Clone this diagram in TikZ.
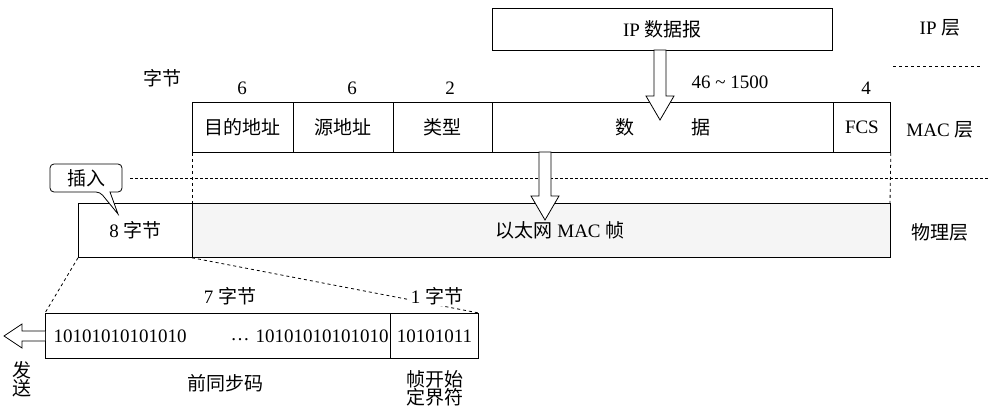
\documentclass[tikz,border=0pt]{standalone}
\usepackage{fontspec}
\setmainfont{Liberation Serif}
\newfontfamily\cjk{Noto Sans CJK SC}
\begin{document}
\begin{tikzpicture}[x=1pt,y=-1pt,
  cell/.style={draw,thick,minimum height=50pt,inner sep=0pt,anchor=north west,font=\fontsize{19}{22}\selectfont},
  lab/.style={inner sep=1pt,font=\fontsize{19}{22}\selectfont},
  hollow/.style={draw,thick,fill=white}]
\useasboundingbox (0,0) rectangle (990,412);
% IP
\node[cell,minimum width=340pt,minimum height=42pt] (ip) at (492,8) {IP {\cjk 数据报}};
\node[lab] (iplayer) at (940,28) {IP {\cjk 层}};
\draw[thick,dashed] (893,66) coordinate (d1) -- (980,66) coordinate (d2);
% MAC row
\node[cell,minimum width=101pt] (dst) at (192,102) {\cjk 目的地址};
\node[cell,minimum width=100pt] (src) at (293,102) {\cjk 源地址};
\node[cell,minimum width=99pt] (typ) at (393,102) {\cjk 类型};
\node[cell,minimum width=341pt] (dat) at (492,102) {\cjk 数\hspace{3em}据};
\node[cell,minimum width=57pt] (fcs) at (833,102) {FCS};
\node[lab] (maclayer) at (940,130) {MAC {\cjk 层}};
\node[lab] at (162,78) {\cjk 字节};
\node[lab] at (242,88) {6};
\node[lab] at (352,88) {6};
\node[lab] at (450,88) {2};
\node[lab] at (730,82) {46 \char`~\ 1500};
\node[lab] at (866,88) {4};
% arrow IP -> MAC
\draw[hollow] (654,50) -- (666,50) -- (666,96) -- (674,96) -- (660,120) -- (646,96) -- (654,96) -- cycle;
% dotted separator and verticals
\draw[thick,densely dashed] (130,178) -- (990,178);
\draw[thick,dashed] (dst.south west) -- (192,203);
\draw[thick,dashed] (fcs.south east) -- (890,203);
% physical
\node[cell,minimum width=114pt,minimum height=54pt] (pre) at (78,203) {8 {\cjk 字节}};
\node[cell,minimum width=698pt,minimum height=54pt,fill=gray!8] (frm) at (192,203) {};
\node[lab] at (560,230) {{\cjk 以太网} MAC {\cjk 帧}};
\node[lab] (phy) at (940,232) {\cjk 物理层};
% arrow MAC -> phys
\draw[hollow] (539,152) -- (551,152) -- (551,196) -- (559,196) -- (545,220) -- (531,196) -- (539,196) -- cycle;
% callout
\draw[thick,fill=white,rounded corners=4pt] (50,164) -- (50,192) -- (100,192) [sharp corners]-- (118,214) -- (110,192) [rounded corners=4pt] -- (122,192) -- (122,164) -- cycle;
\node[lab] (ins) at (86,178) {\cjk 插入};
% zoom lines
\node[cell,minimum width=345pt,minimum height=45pt] (b1) at (45,313) {};
\node[cell,minimum width=88pt,minimum height=45pt] (b2) at (390,313) {10101011};
\draw[thick,dashed] (pre.south west) -- (b1.north west);
\draw[thick,dashed] (frm.south west) -- (b2.north east);
\node[lab] at (120,336) {10101010101010};
\node[lab] at (240,340) {\dots};
\node[lab] at (322,336) {10101010101010};
\node[lab] at (230,296) {7 {\cjk 字节}};
\node[lab,fill=white] at (437,296) {1 {\cjk 字节}};
\node[lab] at (225,383) {\cjk 前同步码};
\node[lab,align=center] at (435,388) {\cjk 帧开始\\[-4pt]\cjk 定界符};
% send arrow
\draw[hollow] (45,331) -- (22,331) -- (22,324) -- (4,336) -- (22,348) -- (22,341) -- (45,341);
\node[lab,align=center] at (22,379) {\cjk 发\\[-4pt]\cjk 送};
\end{tikzpicture}
\end{document}
